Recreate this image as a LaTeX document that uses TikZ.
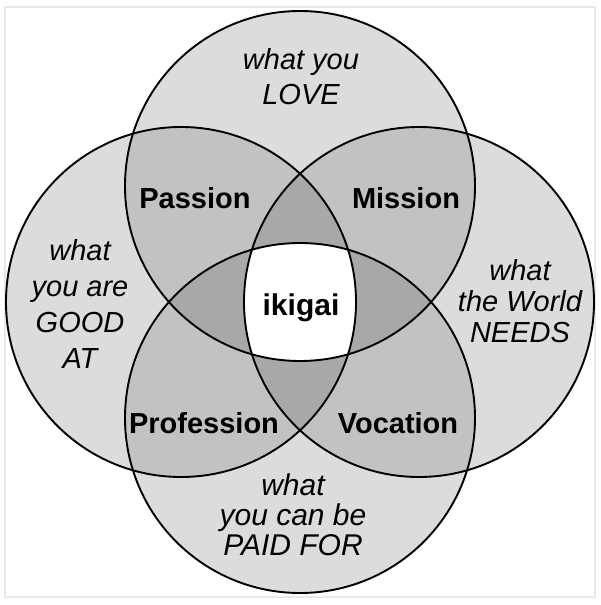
\documentclass[tikz,border=0pt]{standalone}
\usepackage{fontspec}
\setmainfont{Liberation Sans}
\usepackage{xcolor}
\usepackage{tikz}
\definecolor{single}{RGB}{220,220,220}
\definecolor{pair}{RGB}{194,194,194}
\definecolor{triple}{RGB}{168,168,168}
\definecolor{framegray}{RGB}{232,232,232}
\newcommand{\ring}[1]{(#1) circle[radius=175pt]}

\begin{document}
\begin{tikzpicture}[x=1pt, y=-1pt,
  outline/.style={draw=black, line width=1.9pt},
  area/.style={align=center, inner sep=0pt, font=\itshape},
  overlap/.style={inner sep=0pt, anchor=base,
    font=\fontsize{29}{33}\selectfont\bfseries}
]
\useasboundingbox (0,0) rectangle (600,605);
\fill[white] (0,0) rectangle (600,605);
\draw[framegray, line width=1.2pt] (5,7) rectangle (595,597);

\coordinate (love)  at (300,186);
\coordinate (good)  at (181,302);
\coordinate (needs) at (419,302);
\coordinate (paid)  at (300,418);

% one circle
\foreach \c in {love, good, needs, paid}
  \fill[single] \ring{\c};
% two circles
\foreach \a/\b in {love/good, love/needs, paid/good, paid/needs}{
  \begin{scope}
    \clip \ring{\a};
    \fill[pair] \ring{\b};
  \end{scope}
}
% three circles
\foreach \a/\b/\c in {love/good/needs, love/good/paid, love/needs/paid, paid/good/needs}{
  \begin{scope}
    \clip \ring{\a};
    \clip \ring{\b};
    \fill[triple] \ring{\c};
  \end{scope}
}
% all four
\begin{scope}
  \clip \ring{love};
  \clip \ring{good};
  \clip \ring{needs};
  \fill[white] \ring{paid};
\end{scope}

\foreach \c in {love, good, needs, paid}
  \draw[outline] \ring{\c};

\node[area, font=\fontsize{29}{35}\selectfont\itshape] (loveTxt) at (301,77)
  {what you\\LOVE};
\node[area, font=\fontsize{29}{36}\selectfont\itshape] (goodTxt) at (80,304)
  {what\\you are\\GOOD\\AT};
\node[area, font=\fontsize{29}{31}\selectfont\itshape] (needsTxt) at (520,301)
  {what\\the World\\NEEDS};
\node[area, font=\fontsize{30}{30}\selectfont\itshape] (paidTxt) at (293,515)
  {what\\you can be\\PAID FOR};

\node[overlap] (passion)    at (195,208) {Passion};
\node[overlap] (mission)    at (406,208) {Mission};
\node[overlap] (profession) at (204,433) {Profession};
\node[overlap] (vocation)   at (398,433) {Vocation};
\node[overlap, font=\fontsize{30}{33}\selectfont\bfseries] (ikigai) at (301,315) {ikigai};
\end{tikzpicture}
\end{document}
